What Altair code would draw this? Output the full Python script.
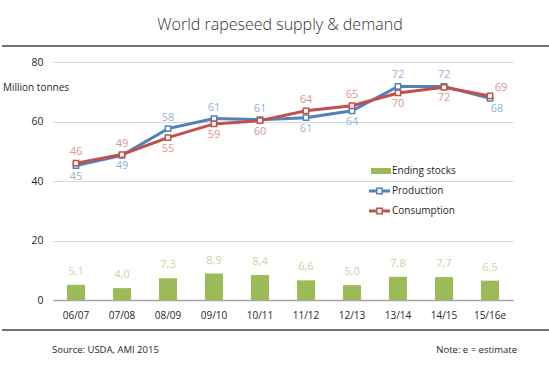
import altair as alt
import pandas as pd

seasons = ["06/07", "07/08", "08/09", "09/10", "10/11", "11/12", "12/13", "13/14", "14/15", "15/16e"]
production = [45.2, 48.6, 57.6, 61.0, 60.6, 61.3, 63.6, 71.8, 71.8, 67.8]
consumption = [46.0, 48.9, 54.6, 59.2, 60.3, 63.6, 65.3, 69.6, 71.5, 68.6]
ending_stocks = [5.1, 4.0, 7.3, 8.9, 8.4, 6.6, 5.0, 7.8, 7.7, 6.5]
prod_side = ["below", "below", "above", "above", "above", "below", "below", "above", "above", "below_right"]
cons_side = ["above", "above", "below", "below", "below", "above", "above", "below", "below", "above_right"]
y_ticks = [0, 20, 40, 60, 80]

FONT = "Open Sans"
C_BAR, C_BAR_L = "#9BBB59", "#C3D69B"
C_PROD, C_PROD_L = "#4F81BD", "#95B3D7"
C_CONS, C_CONS_L = "#C0504D", "#D99694"

df = pd.DataFrame({
    "season": seasons,
    "production": production,
    "consumption": consumption,
    "stocks": ending_stocks,
    "prod_side": prod_side,
    "cons_side": cons_side,
})
df["stock_label"] = [f"{v:.1f}".replace(".", ",") for v in ending_stocks]
df["prod_label"] = [f"{round(v)}" for v in production]
df["cons_label"] = [f"{round(v)}" for v in consumption]

W, H = 460, 238

xenc = alt.X("season:N", sort=seasons, title=None,
             scale=alt.Scale(paddingInner=0, paddingOuter=0),
             axis=alt.Axis(labelAngle=0, ticks=False, domain=True, domainColor="#A6A6A6",
                           domainWidth=1.5, labelPadding=10, labelFont=FONT, labelFontSize=10,
                           labelColor="#262626", grid=False))
yscale = alt.Scale(domain=[0, 80], nice=False)

base = alt.Chart(df)

bars = base.mark_bar(size=18, color=C_BAR).encode(
    x=xenc,
    y=alt.Y("stocks:Q", scale=yscale, title=None,
            axis=alt.Axis(values=y_ticks, domain=False, ticks=False, labelPadding=10,
                          gridColor="#D9D9D9", gridWidth=1, labelFont=FONT, labelFontSize=10.5,
                          labelColor="#262626")),
)
bar_labels = base.mark_text(dy=-13, color=C_BAR_L, font=FONT, fontSize=11, baseline="middle").encode(
    x=alt.X("season:N", sort=seasons), y=alt.Y("stocks:Q", scale=yscale), text="stock_label:N")

def series(field, side_field, label_field, col, col_l):
    line = base.mark_line(color=col, strokeWidth=3).encode(
        x=alt.X("season:N", sort=seasons), y=alt.Y(f"{field}:Q", scale=yscale))
    pts = base.mark_point(shape="square", filled=True, fill="white", stroke=col,
                          strokeWidth=1.5, size=28, opacity=1).encode(
        x=alt.X("season:N", sort=seasons), y=alt.Y(f"{field}:Q", scale=yscale))
    layers = [line, pts]
    offsets = {"above": (0, -11), "below": (0, 11), "below_right": (7, 11), "above_right": (11, -8)}
    for side, (dx, dy) in offsets.items():
        layers.append(
            base.transform_filter(alt.datum[side_field] == side)
            .mark_text(dx=dx, dy=dy, color=col_l, font=FONT, fontSize=11, baseline="middle")
            .encode(x=alt.X("season:N", sort=seasons), y=alt.Y(f"{field}:Q", scale=yscale),
                    text=f"{label_field}:N"))
    return layers

prod_layers = series("production", "prod_side", "prod_label", C_PROD, C_PROD_L)
cons_layers = series("consumption", "cons_side", "cons_label", C_CONS, C_CONS_L)

one = alt.Chart(alt.Data(values=[{"a": 1}]))

def txt(s, x, y, align="left", size=10, color="#262626", weight=400):
    return one.mark_text(text=s, align=align, baseline="middle", font=FONT, fontSize=size,
                         color=color, fontWeight=weight).encode(x=alt.value(x), y=alt.value(y))

def hrule(y, x1, x2, color, width):
    return one.mark_rule(color=color, strokeWidth=width).encode(
        x=alt.value(x1), x2=alt.value(x2), y=alt.value(y))

deco = [
    txt("World rapeseed supply & demand", 227, -37, align="center", size=16, color="#333333", weight=300),
    hrule(-16, -51, 496, "#404040", 1.5),
    hrule(268, -51, 496, "#404040", 1.5),
    txt("Million tonnes", -50, 26),
    txt("Source:  USDA, AMI 2015", -1, 288, size=9.5),
    txt("Note: e = estimate", 464, 288, align="right", size=9.5),
    # legend
    one.mark_rect(color=C_BAR).encode(x=alt.value(318), x2=alt.value(338), y=alt.value(106), y2=alt.value(112)),
    txt("Ending stocks", 339, 109),
    hrule(129, 316, 337, C_PROD, 3),
    one.mark_point(shape="square", filled=True, fill="white", stroke=C_PROD, strokeWidth=1.5, size=28, opacity=1)
       .encode(x=alt.value(326.5), y=alt.value(129)),
    txt("Production", 339, 129),
    hrule(149, 316, 337, C_CONS, 3),
    one.mark_point(shape="square", filled=True, fill="white", stroke=C_CONS, strokeWidth=1.5, size=28, opacity=1)
       .encode(x=alt.value(326.5), y=alt.value(149)),
    txt("Consumption", 339, 149),
]

chart = alt.layer(bars, bar_labels, *prod_layers, *cons_layers, *deco).properties(
    width=W, height=H,
    autosize=alt.AutoSizeParams(type="none"),
    padding={"left": 53, "top": 62, "right": 36, "bottom": 76},
    background="white",
).configure_view(stroke=None)

chart.save("out.html", embed_options={"renderer": "svg", "actions": False})
